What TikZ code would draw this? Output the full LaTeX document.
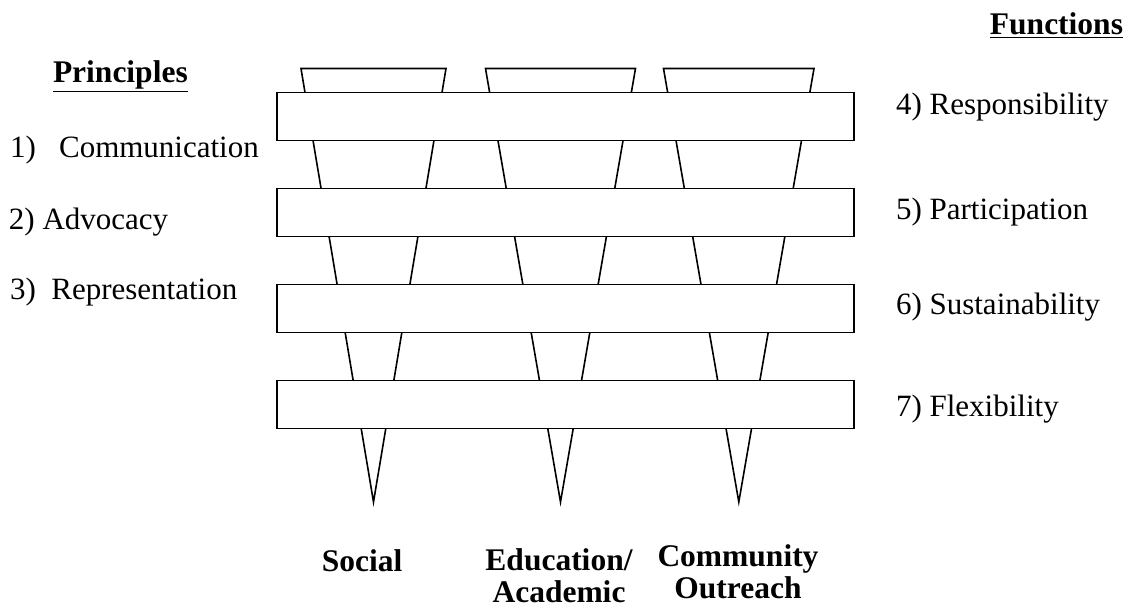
\documentclass[tikz,border=0pt]{standalone}
\usepackage{fontspec}
\setmainfont{Liberation Serif}
\begin{document}
\begin{tikzpicture}
	[
		x=1pt, y=-1pt,
		every node/.style={inner sep=0pt, outer sep=0pt},
		label/.style={font=\fontsize{31}{33}\selectfont},
		heading/.style={font=\fontsize{31.5}{32}\selectfont\bfseries},
		bar/.style={draw=black, fill=white, line width=1.6pt, minimum width=577pt, minimum height=48pt},
		cone/.style={draw=black, line width=1.6pt, line join=miter}
	]

	\useasboundingbox (0, 0) rectangle (1128, 609);

	\draw [cone] (301.0, 68.5) -- (446.0, 68.5) -- (373.5, 502) -- cycle;
	\draw [cone] (485.5, 68.5) -- (635.5, 68.5) -- (560.5, 502) -- cycle;
	\draw [cone] (663.5, 68.5) -- (814.0, 68.5) -- (738.8, 502) -- cycle;

	\node (bar1) at (565.5, 116.7) [bar] {};
	\node (bar2) at (565.5, 212.7) [bar] {};
	\node (bar3) at (565.5, 308.5) [bar] {};
	\node (bar4) at (565.5, 404.7) [bar] {};

	\node (principles) at (53, 83) [heading, anchor=base west] {\underline{Principles}};
	\node (communication) at (10, 158) [label, anchor=base west] {1)\ \ \ Communication};
	\node (advocacy) at (9, 230) [label, anchor=base west] {2) Advocacy};
	\node (representation) at (10, 300) [label, anchor=base west] {3)\ \ Representation};

	\node (functions) at (1123, 35) [heading, anchor=base east] {\underline{Functions}};
	\node (responsibility) at (896, 115) [label, anchor=base west] {4) Responsibility};
	\node (participation) at (896, 220) [label, anchor=base west] {5) Participation};
	\node (sustainability) at (896, 315) [label, anchor=base west] {6) Sustainability};
	\node (flexibility) at (896, 417) [label, anchor=base west] {7) Flexibility};

	\node (social) at (362, 571) [heading, anchor=base] {Social};
	\node (education) at (559, 602) [heading, anchor=base, align=center] {Education/\\Academic};
	\node (community) at (738, 598) [heading, anchor=base, align=center] {Community\\Outreach};
\end{tikzpicture}
\end{document}
